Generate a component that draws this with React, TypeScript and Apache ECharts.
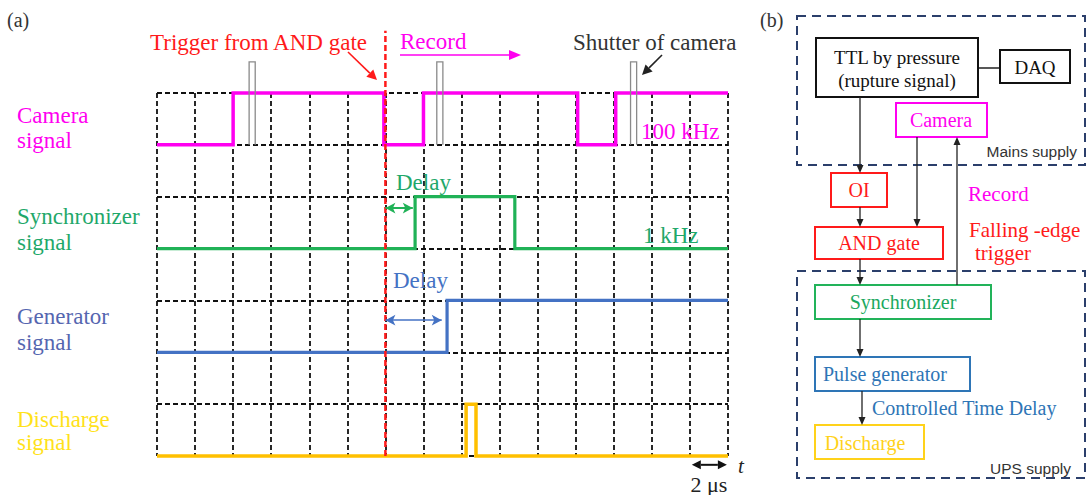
import React, { useEffect, useRef } from "react";
import * as echarts from "echarts";

// Time axis: 15 divisions of 2 µs; signal rows stacked on a 0..7 level axis
const timeDivisions = 15;
const levelRows = 7;

// Signal traces as [time division, level] corner points
const cameraSignal: [number, number][] = [
  [0, 6], [2, 6], [2, 7], [5.96, 7], [5.96, 6], [7, 6], [7, 7],
  [11.05, 7], [11.05, 6], [12.05, 6], [12.05, 7], [15, 7],
];
const syncSignal: [number, number][] = [
  [0, 4], [6.78, 4], [6.78, 5], [9.4, 5], [9.4, 4], [15, 4],
];
const generatorSignal: [number, number][] = [
  [0, 2], [7.62, 2], [7.62, 3], [15, 3],
];
const dischargeSignal: [number, number][] = [
  [0, 0], [8.12, 0], [8.12, 1], [8.38, 1], [8.38, 0], [15, 0],
];

// Camera shutter openings [start, end] and their drawn height
const shutterOpenings: [number, number][] = [
  [2.42, 2.58], [7.35, 7.51], [12.44, 12.6],
];
const shutterBase = 6;
const shutterTop = 7.6;

// Trigger instant and the delay spans measured from it
const triggerTime = 6;
const triggerLineTop = 8.2;
const syncDelay: [number, number] = [6, 6.72];
const generatorDelay: [number, number] = [6, 7.48];
// One division (2 µs) scale bar under the time axis
const scaleBar: [number, number] = [14.05, 14.97];
const scaleBarLevel = -0.17;

const SERIF = "Liberation Serif";
const SANS = "Liberation Sans";

const MAGENTA = "#ff00f0";
const GREEN = "#20b257";
const BLUE = "#4472c4";
const ORANGE = "#ffc000";
const RED = "#ff1a1a";

function txt(text: string, x: number, y: number, fill: string, size: number, opts: any = {}) {
  return {
    type: "text",
    silent: true,
    z: 10,
    style: {
      text,
      x,
      y,
      fill,
      fontSize: size,
      fontFamily: opts.family || SERIF,
      fontStyle: opts.italic ? "italic" : "normal",
      textAlign: opts.align || "left",
      textVerticalAlign: "middle",
    },
  };
}

function box(x: number, y: number, w: number, h: number, stroke: string, lineWidth = 2, dash?: number[]) {
  return {
    type: "rect",
    silent: true,
    shape: { x, y, width: w, height: h },
    style: { fill: "none", stroke, lineWidth, lineDash: dash },
  };
}

function arrow(x1: number, y1: number, x2: number, y2: number, color: string, width = 1.4, hl = 9, hw = 4, both = false) {
  const dx = x2 - x1;
  const dy = y2 - y1;
  const len = Math.hypot(dx, dy);
  const ux = dx / len;
  const uy = dy / len;
  const bx = x2 - ux * hl;
  const by = y2 - uy * hl;
  const sx = both ? x1 + ux * hl : x1;
  const sy = both ? y1 + uy * hl : y1;
  const out: any[] = [
    {
      type: "line",
      silent: true,
      shape: { x1: sx, y1: sy, x2: bx, y2: by },
      style: { stroke: color, lineWidth: width },
    },
    {
      type: "polygon",
      silent: true,
      shape: {
        points: [
          [x2, y2],
          [bx - uy * hw, by + ux * hw],
          [bx + uy * hw, by - ux * hw],
        ],
      },
      style: { fill: color },
    },
  ];
  if (both) {
    out.push({
      type: "polygon",
      silent: true,
      shape: {
        points: [
          [x1, y1],
          [sx - uy * hw, sy + ux * hw],
          [sx + uy * hw, sy - ux * hw],
        ],
      },
      style: { fill: color },
    });
  }
  return out;
}

function delayLine(span: [number, number], level: number) {
  return [{ coord: [span[0], level] }, { coord: [span[1], level] }];
}

export default function App() {
  const ref = useRef<HTMLDivElement>(null);

  useEffect(() => {
    document.body.style.margin = "0";
    const chart = echarts.init(ref.current!, null, { renderer: "svg" });

    const shutterData: any[] = [];
    shutterOpenings.forEach(([a, b], i) => {
      if (i > 0) shutterData.push("-");
      shutterData.push([a, shutterBase], [a, shutterTop], [b, shutterTop], [b, shutterBase]);
    });

    const gridLine = { color: "#111", width: 1.8, type: [5, 3] as any };

    const signalSeries = (name: string, data: any[], color: string, width: number, extra: any = {}) => ({
      name,
      type: "line",
      data,
      symbol: "none",
      clip: false,
      silent: true,
      lineStyle: { color, width, join: "miter" },
      ...extra,
    });

    const markArrows = (pairs: any[], color: string, width = 1.6) => ({
      silent: true,
      symbol: ["arrow", "arrow"],
      symbolSize: [8, 10],
      label: { show: false },
      lineStyle: { color, width, type: "solid" },
      data: pairs,
    });

    const graphics: any[] = [
      // panel (a) texts
      txt("(a)", 7, 20, "#333", 20),
      txt("Trigger from AND gate", 150, 42, RED, 23),
      ...arrow(348, 52, 377, 80, RED, 1.6, 10, 5),
      txt("Record", 400, 41, MAGENTA, 23),
      ...arrow(400, 55, 521, 55, MAGENTA, 1.6, 12, 5),
      txt("Shutter of camera", 573, 42, "#333", 23),
      ...arrow(662, 55, 642, 75, "#222", 1.6, 10, 5),
      txt("Camera", 17, 115, MAGENTA, 23),
      txt("signal", 17, 140, MAGENTA, 23),
      txt("Synchronizer", 17, 216, "#1fa86a", 23),
      txt("signal", 17, 242, "#1fa86a", 23),
      txt("Generator", 17, 316, "#5566b0", 23),
      txt("signal", 17, 342, "#5566b0", 23),
      txt("Discharge", 17, 419, "#ffe21a", 23),
      txt("signal", 17, 442, "#ffe21a", 23),
      txt("100 kHz", 641, 131, MAGENTA, 23),
      txt("Delay", 396, 182, "#1fa86a", 23),
      txt("1 kHz", 643, 235, "#1fa86a", 23),
      txt("Delay", 393, 280, BLUE, 23),
      txt("t", 738, 466, "#222", 21, { italic: true }),
      txt("2 μs", 709, 484, "#222", 22, { align: "center" }),

      // panel (b) block diagram
      txt("(b)", 760, 20, "#333", 20),
      box(797, 16, 288, 149, "#2b3f6b", 2, [9, 6]),
      box(797, 271, 288, 207, "#2b3f6b", 2, [9, 6]),
      box(816, 38, 162, 59, "#111"),
      txt("TTL by pressure", 897, 57, "#111", 19, { align: "center" }),
      txt("(rupture signal)", 897, 80, "#111", 19, { align: "center" }),
      box(1000, 50, 70, 33, "#111"),
      txt("DAQ", 1035, 67, "#111", 19, { align: "center" }),
      { type: "line", silent: true, shape: { x1: 978, y1: 68, x2: 1000, y2: 68 }, style: { stroke: "#111", lineWidth: 1.4 } },
      box(896, 103, 91, 34, MAGENTA),
      txt("Camera", 941, 120, MAGENTA, 20, { align: "center" }),
      txt("Mains supply", 1077, 151, "#333", 15.5, { align: "right", family: SANS }),
      box(831, 173, 56, 34, RED),
      txt("OI", 859, 190, RED, 20, { align: "center" }),
      box(815, 227, 128, 32, RED),
      txt("AND gate", 879, 243, RED, 20, { align: "center" }),
      box(815, 285, 176, 34, "#22b35a"),
      txt("Synchronizer", 903, 302, "#1aa860", 20, { align: "center" }),
      box(815, 357, 155, 34, "#2e75b6"),
      txt("Pulse generator", 823, 374, "#2e75b6", 20),
      box(815, 425, 109, 34, "#ffd21a"),
      txt("Discharge", 865, 443, "#ffd21a", 20, { align: "center" }),
      txt("Controlled Time Delay", 872, 408, "#2e75b6", 20),
      txt("UPS supply", 1071, 468, "#333", 15.5, { align: "right", family: SANS }),
      txt("Record", 968, 194, MAGENTA, 21),
      txt("Falling -edge", 969, 230, RED, 21),
      txt("trigger", 975, 253, RED, 21),
      ...arrow(860, 97, 860, 173, "#222", 1.3, 8, 3.5),
      ...arrow(917, 137, 917, 227, "#222", 1.3, 8, 3.5),
      ...arrow(860, 207, 860, 227, "#222", 1.3, 8, 3.5),
      ...arrow(860, 259, 860, 285, "#222", 1.3, 8, 3.5),
      ...arrow(957, 285, 957, 137, "#222", 1.3, 8, 3.5),
      ...arrow(860, 319, 860, 357, "#222", 1.3, 8, 3.5),
      ...arrow(862, 391, 862, 425, "#222", 1.3, 8, 3.5),
    ];

    chart.setOption({
      animation: false,
      backgroundColor: "#fff",
      grid: { left: 157, top: 93, width: 571, height: 363, containLabel: false },
      xAxis: {
        type: "value",
        min: 0,
        max: timeDivisions,
        interval: 1,
        axisLine: { show: false },
        axisTick: { show: false },
        axisLabel: { show: false },
        splitLine: { show: true, lineStyle: gridLine },
      },
      yAxis: {
        type: "value",
        min: 0,
        max: levelRows,
        interval: 1,
        axisLine: { show: false },
        axisTick: { show: false },
        axisLabel: { show: false },
        splitLine: { show: true, lineStyle: gridLine },
      },
      series: [
        signalSeries("Camera signal", cameraSignal, MAGENTA, 3.5),
        signalSeries("Shutter of camera", shutterData, "#8a8a8a", 1.3, { connectNulls: false, z: 3 }),
        signalSeries("Synchronizer signal", syncSignal, GREEN, 3.2, {
          markLine: markArrows([delayLine(syncDelay, 4.78)], GREEN, 2),
        }),
        signalSeries("Generator signal", generatorSignal, BLUE, 3.2, {
          markLine: markArrows([delayLine(generatorDelay, 2.62)], BLUE, 1.6),
        }),
        signalSeries("Discharge signal", dischargeSignal, ORANGE, 3.5),
        signalSeries("Trigger", [[triggerTime, 0], [triggerTime, triggerLineTop]], RED, 2.5, {
          lineStyle: { color: RED, width: 2.5, type: [6, 3] },
          z: 4,
        }),
      ],
      graphic: graphics,
    });

    // Scale bar below the time axis, placed through the axis scale
    const p0 = chart.convertToPixel({ gridIndex: 0 }, [scaleBar[0], scaleBarLevel]) as number[];
    const p1 = chart.convertToPixel({ gridIndex: 0 }, [scaleBar[1], scaleBarLevel]) as number[];
    chart.setOption({
      graphic: [
        ...graphics,
        ...arrow(p0[0], p0[1], p1[0], p1[1], "#111", 2, 9, 4.5, true),
      ],
    }, { replaceMerge: ["graphic"] });

    return () => chart.dispose();
  }, []);

  return <div ref={ref} style={{ width: 1088, height: 495 }} />;
}
